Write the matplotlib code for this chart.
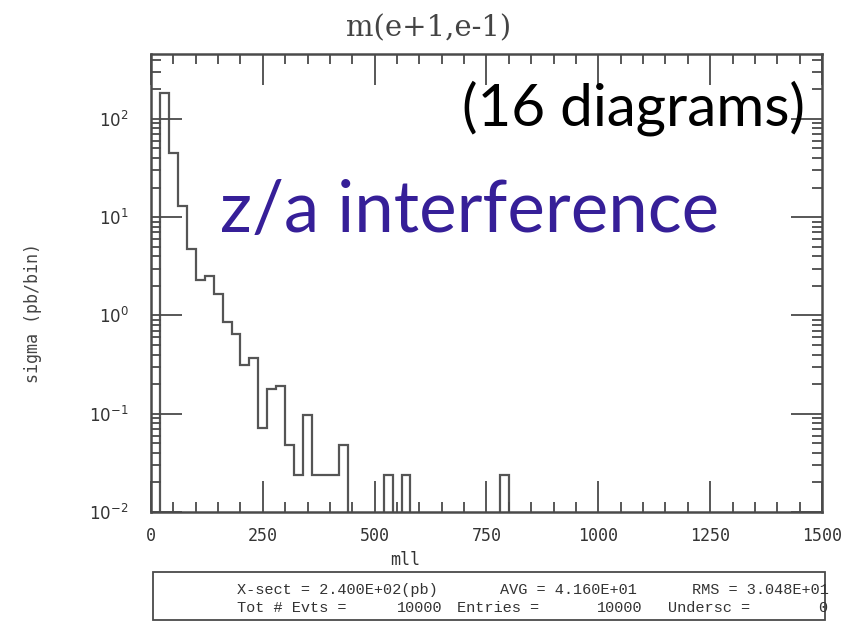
import numpy as np
import matplotlib
matplotlib.use("Agg")
import matplotlib.pyplot as plt
from matplotlib.patches import Rectangle
from matplotlib.ticker import MultipleLocator, LogLocator, NullFormatter

# mll histogram, 20 GeV bins from 0 to 1500 (sigma in pb/bin)
bin_width = 20
mll_range = (0, 1500)
sigma = [
    0.0, 185.0, 45.0, 13.0, 4.7, 2.28, 2.5, 1.67, 0.86, 0.64,
    0.31, 0.37, 0.072, 0.18, 0.192, 0.048, 0.024, 0.096, 0.024, 0.024,
    0.024, 0.048, 0.0, 0.0, 0.0, 0.0, 0.024, 0.0, 0.024, 0.0,
    0.0, 0.0, 0.0, 0.0, 0.0, 0.0, 0.0, 0.0, 0.0, 0.024,
    0.0, 0.0, 0.0, 0.0, 0.0, 0.0, 0.0, 0.0, 0.0, 0.0,
    0.0, 0.0, 0.0, 0.0, 0.0, 0.0, 0.0, 0.0, 0.0, 0.0,
    0.0, 0.0, 0.0, 0.0, 0.0, 0.0, 0.0, 0.0, 0.0, 0.0,
    0.0, 0.0, 0.0, 0.0, 0.0,
]
x_ticks = [0, 250, 500, 750, 1000, 1250, 1500]

# summary box lines: (text, left x in px)
stats_row1 = [("X-sect = 2.400E+02(pb)", 237), ("AVG = 4.160E+01", 500), ("RMS = 3.048E+01", 692)]
stats_row2 = [("Tot # Evts =", 237), ("10000", 397), ("Entries =", 457), ("10000", 597),
              ("Undersc =", 668), ("0", 818)]

W, H = 853, 625
edges = np.arange(mll_range[0], mll_range[1] + bin_width, bin_width)
sig = np.array(sigma)
sig_plot = np.where(sig > 0, sig, 1e-6)

fig = plt.figure(figsize=(W / 100, H / 100), dpi=100)
ax = fig.add_axes([151 / W, 1 - 512 / H, (822 - 151) / W, (512 - 54) / H])

frame_col = "#4a4a4a"
text_col = "#333333"
ax.stairs(sig_plot, edges, baseline=None, color="#555555", lw=1.6)

ax.set_yscale("log")
ax.set_xlim(*mll_range)
ax.set_ylim(0.01, 10 ** 2.66)

ax.set_xticks(x_ticks)
ax.xaxis.set_minor_locator(MultipleLocator(50))
ax.yaxis.set_major_locator(LogLocator(base=10, numticks=10))
ax.yaxis.set_minor_locator(LogLocator(base=10, subs=np.arange(2, 10), numticks=20))
ax.yaxis.set_minor_formatter(NullFormatter())

ax.tick_params(which="both", direction="in", top=True, right=True, colors=frame_col, width=1.3)
ax.tick_params(which="major", length=22, labelsize=12, labelcolor=text_col)
ax.tick_params(axis="x", which="major", pad=11)
ax.tick_params(axis="y", which="major", pad=16)
ax.tick_params(which="minor", length=7)
for lab in ax.get_xticklabels():
    lab.set_family("DejaVu Sans Mono")
for sp in ax.spines.values():
    sp.set_color(frame_col)
    sp.set_linewidth(1.8)

fig.text(429 / W, 1 - 28 / H, "m(e+1,e-1)", ha="center", va="center",
         family="DejaVu Serif", fontsize=21, color="#444444")
fig.text(405 / W, 1 - 560 / H, "mll", ha="center", va="center",
         family="DejaVu Sans Mono", fontsize=12, color=text_col)
fig.text(33 / W, 1 - 313 / H, "sigma (pb/bin)", ha="center", va="center", rotation=90,
         family="DejaVu Sans Mono", fontsize=12, color="#444444")

# stats box under the plot
fig.add_artist(Rectangle((153 / W, 1 - 620 / H), (825 - 153) / W, 48 / H,
                         transform=fig.transFigure, fill=False, ec=frame_col, lw=1.3))
for txt, x in stats_row1:
    fig.text(x / W, 1 - 590 / H, txt, ha="left", va="center",
             family="Liberation Mono", fontsize=11, color=text_col)
for txt, x in stats_row2:
    fig.text(x / W, 1 - 608 / H, txt, ha="left", va="center",
             family="Liberation Mono", fontsize=11, color=text_col)

# overlay annotations
fig.text(805 / W, 1 - 108 / H, "(16 diagrams)", ha="right", va="center",
         family="Lato", fontsize=42, color="black")
fig.text(220 / W, 1 - 212 / H, "z/a interference", ha="left", va="center",
         family="Lato", fontsize=51, color="#361f98")

fig.savefig("out.png", dpi=100)
